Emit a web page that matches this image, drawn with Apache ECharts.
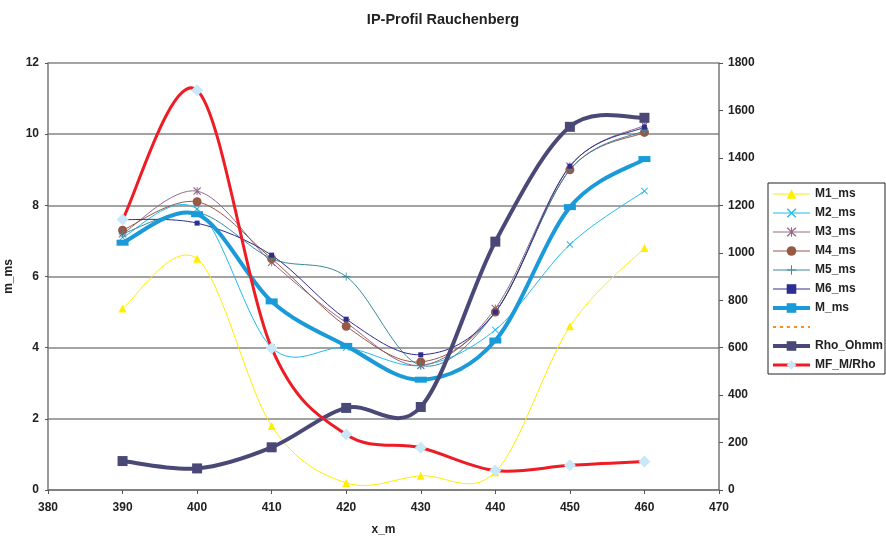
<!DOCTYPE html>
<html>
<head>
<meta charset="utf-8">
<script src="https://cdn.jsdelivr.net/npm/echarts@6/dist/echarts.min.js"></script>
<style>
  html, body { margin: 0; padding: 0; background: #fff; }
  #main { width: 886px; height: 539px; }
</style>
</head>
<body>
<div id="main"></div>
<script>
const chartDom = document.getElementById('main');
let myChart = echarts.init(chartDom);

// x positions (m)
const xM = [390, 400, 410, 420, 430, 440, 450, 460];

// left axis, m_ms
const m1 = [5.1, 6.5, 1.8, 0.2, 0.4, 0.5, 4.6, 6.8];
const m2 = [7.1, 7.9, 4.0, 4.0, 3.5, 4.5, 6.9, 8.4];
const m3 = [7.2, 8.4, 6.4, 4.7, 3.5, 5.1, 9.1, 10.25];
const m4 = [7.3, 8.1, 6.5, 4.6, 3.6, 5.0, 9.0, 10.05];
const m5 = [7.2, 7.8, 6.5, 6.0, 3.5, 5.0, 9.0, 10.1];
const m6 = [7.6, 7.5, 6.6, 4.8, 3.8, 5.0, 9.1, 10.2];
const mMs = [6.95, 7.75, 5.3, 4.05, 3.1, 4.2, 7.95, 9.3];

// right axis
const rho = [122, 91, 180, 346, 350, 1047, 1531, 1569];
const mfRho = [1140, 1685, 598, 234, 178, 82, 104, 120];

const xSym = 'path://M0,1L1,0L5,4L9,0L10,1L6,5L10,9L9,10L5,6L1,10L0,9L4,5Z';
const starSym = 'path://M0,1L1,0L4.4,3.4L4.4,0L5.6,0L5.6,3.4L9,0L10,1L6.4,4.6L6.4,5.4L10,9L9,10L5.6,6.6L5.6,10L4.4,10L4.4,6.6L1,10L0,9L3.6,5.4L3.6,4.6Z';
const plusSym = 'path://M4.5,0L5.5,0L5.5,4.5L10,4.5L10,5.5L5.5,5.5L5.5,10L4.5,10L4.5,5.5L0,5.5L0,4.5L4.5,4.5Z';

// name, values, line colour, width, symbol, size, axis, symbol colour
const seriesDefs = [
    ['M1_ms', m1, '#FFEE00', 1, 'triangle', 8, 0],
    ['M2_ms', m2, '#22BBEE', 1, xSym, 7, 0],
    ['M3_ms', m3, '#946A8A', 1, starSym, 8, 0],
    ['M4_ms', m4, '#985846', 1, 'circle', 9, 0],
    ['M5_ms', m5, '#3D8898', 1, plusSym, 8, 0],
    ['M6_ms', m6, '#2E2E92', 1, 'rect', 5, 0],
    ['M_ms', mMs, '#1A9AD8', 4, 'rect', [12, 6], 0],
    ['Rho_Ohmm', rho, '#4A4876', 4, 'rect', 10, 1],
    ['MF_M/Rho', mfRho, '#EE1C25', 3, 'diamond', 12, 1, '#C8E8F8']
];

pairs = (ys) => xM.map((x, i) => [x, ys[i]]);

// smoothed curve like the spreadsheet does it (cardinal spline, 1/6)
curveSeries = (name, ys, color, width, axis) => ({
    type: 'custom',
    name: name + ' curve',
    yAxisIndex: axis,
    data: [[xM[0], ys[0]]],
    silent: true,
    animation: false,
    renderItem: (params, api) => {
        const pts = xM.map((x, i) => api.coord([x, ys[i]]));
        const n = pts.length;
        const children = [];
        for (let i = 0; i < n - 1; i++) {
            const p0 = pts[Math.max(i - 1, 0)];
            const p1 = pts[i];
            const p2 = pts[i + 1];
            const p3 = pts[Math.min(i + 2, n - 1)];
            children.push({
                type: 'bezierCurve',
                shape: {
                    x1: p1[0], y1: p1[1],
                    x2: p2[0], y2: p2[1],
                    cpx1: p1[0] + (p2[0] - p0[0]) / 6,
                    cpy1: p1[1] + (p2[1] - p0[1]) / 6,
                    cpx2: p2[0] - (p3[0] - p1[0]) / 6,
                    cpy2: p2[1] - (p3[1] - p1[1]) / 6
                },
                style: { stroke: color, lineWidth: width, fill: 'none', lineCap: 'round' }
            });
        }
        return { type: 'group', children };
    }
});

markerSeries = (name, ys, color, symbol, size, axis, symColor) => ({
    name,
    type: 'line',
    yAxisIndex: axis,
    data: pairs(ys),
    symbol,
    symbolSize: size,
    showSymbol: true,
    lineStyle: { color, width: 1, opacity: 0 },
    itemStyle: { color: symColor || color },
    emphasis: { disabled: true },
    animation: false
});

const series = [];
const legendData = [];
seriesDefs.forEach((d) => {
    const [name, ys, color, width, symbol, size, axis, symColor] = d;
    series.push(curveSeries(name, ys, color, width, axis));
    series.push(markerSeries(name, ys, color, symbol, size, axis, symColor));
    legendData.push({ name, lineStyle: { color, width, opacity: 1 } });
    if (name === 'M_ms') {
        series.push({
            name: ' ',
            type: 'line',
            data: [],
            symbol: 'none',
            lineStyle: { color: '#FF8C1A', width: 1.5, type: [3, 4] },
            itemStyle: { color: '#FF8C1A' }
        });
        legendData.push({ name: ' ', itemStyle: { opacity: 0 } });
    }
});

const labelFont = {
    fontFamily: 'Liberation Sans, Arial, sans-serif',
    fontWeight: 'bold',
    fontSize: 12,
    color: '#222'
};

myChart.setOption({
    backgroundColor: '#fff',
    animation: false,
    title: {
        text: 'IP-Profil Rauchenberg',
        left: 'center',
        top: 7,
        textStyle: {
            fontFamily: 'Liberation Sans, Arial, sans-serif',
            fontWeight: 'bold',
            fontSize: 14.5,
            color: '#222'
        }
    },
    legend: {
        data: legendData,
        orient: 'vertical',
        left: 768,
        top: 183,
        padding: [4, 2, 2, 3],
        itemWidth: 37,
        itemHeight: 12,
        itemGap: 5,
        borderColor: '#222',
        borderWidth: 1,
        borderRadius: 0,
        selectedMode: false,
        textStyle: Object.assign({}, labelFont, { lineHeight: 14 })
    },
    grid: {
        left: 48,
        right: 167,
        top: 63,
        bottom: 49,
        containLabel: false,
        outerBoundsMode: 'none'
    },
    xAxis: {
        type: 'value',
        min: 380,
        max: 470,
        interval: 10,
        name: 'x_m',
        nameLocation: 'middle',
        nameGap: 34,
        nameTextStyle: labelFont,
        axisLine: { show: true, lineStyle: { color: '#777', width: 1.5 } },
        axisTick: { show: true, length: 4, lineStyle: { color: '#555' } },
        axisLabel: Object.assign({ margin: 12 }, labelFont),
        splitLine: { show: false }
    },
    yAxis: [
        {
            type: 'value',
            min: 0,
            max: 12,
            interval: 2,
            name: 'm_ms',
            nameLocation: 'middle',
            nameGap: 24,
            nameTextStyle: labelFont,
            axisLine: { show: true, lineStyle: { color: '#777', width: 1.5 } },
            axisTick: { show: true, length: 3, lineStyle: { color: '#555' } },
            axisLabel: Object.assign({ margin: 9 }, labelFont),
            splitLine: { show: true, lineStyle: { color: '#858585', width: 1.5 } }
        },
        {
            type: 'value',
            min: 0,
            max: 1800,
            interval: 200,
            position: 'right',
            axisLine: { show: true, lineStyle: { color: '#777', width: 1.5 } },
            axisTick: { show: true, length: 4, lineStyle: { color: '#555' } },
            axisLabel: Object.assign({ margin: 9, formatter: (v) => String(v) }, labelFont),
            splitLine: { show: false }
        }
    ],
    series
});

window.addEventListener('resize', () => {
    myChart.resize();
});
</script>
</body>
</html>
